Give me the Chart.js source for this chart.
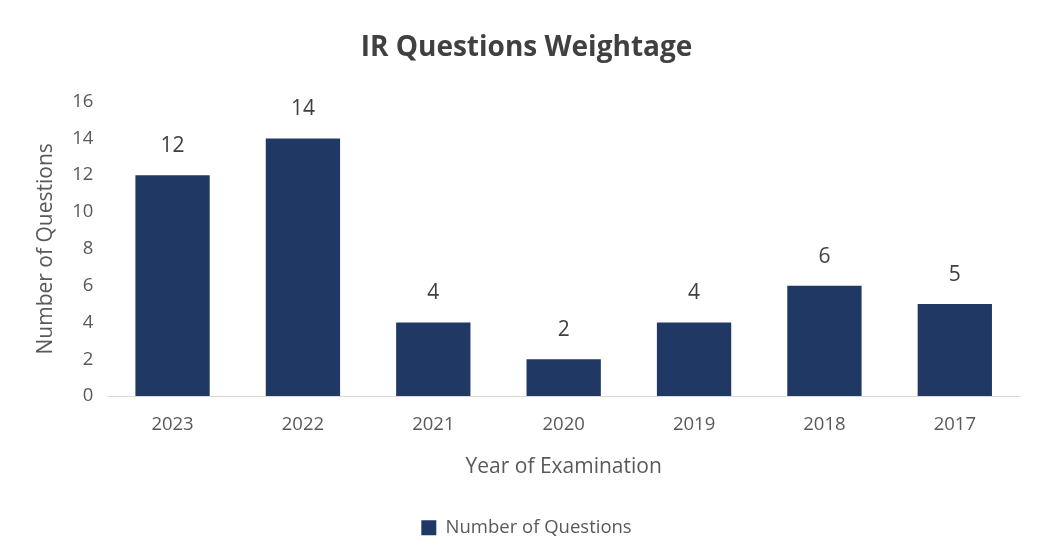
<!DOCTYPE html>
<html>
<head>
<meta charset="utf-8">
<script src="https://cdn.jsdelivr.net/npm/chart.js@4.4.1/dist/chart.umd.min.js"></script>
<style>
html,body{margin:0;padding:0;background:#fff;}
#wrap{width:1037px;height:547px;position:relative;}
</style>
</head>
<body>
<div id="wrap"><canvas id="c"></canvas></div>
<script>
const categories = ["2023","2022","2021","2020","2019","2018","2017"];
const questions = [12, 14, 4, 2, 4, 6, 5];
const yTicks = [0,2,4,6,8,10,12,14,16];

const FONT = "'Open Sans', 'Noto Sans', sans-serif";

const valueLabels = {
  id: 'valueLabels',
  afterDatasetsDraw(chart) {
    const ctx = chart.ctx;
    const meta = chart.getDatasetMeta(0);
    ctx.save();
    ctx.font = "21px " + FONT;
    ctx.fillStyle = '#404040';
    ctx.textAlign = 'center';
    ctx.textBaseline = 'middle';
    meta.data.forEach((bar, i) => {
      ctx.fillText(String(questions[i]), bar.x, bar.y - 29);
    });
    ctx.restore();
  }
};

new Chart(document.getElementById('c'), {
  type: 'bar',
  data: {
    labels: categories,
    datasets: [{
      label: 'Number of Questions',
      data: questions,
      backgroundColor: '#203864',
      borderWidth: 0,
      barPercentage: 0.57,
      categoryPercentage: 1.0
    }]
  },
  options: {
    responsive: true,
    maintainAspectRatio: false,
    animation: false,
    layout: { padding: { left: 33, right: 17, top: 0, bottom: 0 } },
    plugins: {
      title: {
        display: true,
        text: 'IR Questions Weightage',
        color: '#404040',
        font: { family: FONT, size: 28, weight: 'bold' },
        padding: { top: 31, bottom: 37 }
      },
      legend: {
        position: 'bottom',
        labels: {
          color: '#595959',
          font: { family: FONT, size: 18.5 },
          boxWidth: 15, boxHeight: 15,
          padding: 10
        }
      },
      tooltip: { enabled: false }
    },
    scales: {
      x: {
        grid: { display: false, drawTicks: false },
        border: { display: true, color: '#d9d9d9', width: 1 },
        ticks: { color: '#595959', font: { family: FONT, size: 18.5 }, padding: 18 },
        title: { display: true, text: 'Year of Examination', color: '#595959',
                 font: { family: FONT, size: 21 }, padding: { top: 0, bottom: 29 } }
      },
      y: {
        min: 0, max: 16,
        afterBuildTicks(axis) { axis.ticks = yTicks.map(v => ({ value: v })); },
        grid: { display: false, drawTicks: false },
        border: { display: false },
        ticks: { color: '#595959', font: { family: FONT, size: 18.5 }, padding: 14 },
        title: { display: true, text: 'Number of Questions', color: '#595959',
                 font: { family: FONT, size: 21 }, padding: { top: 0, bottom: 0 } }
      }
    }
  },
  plugins: [valueLabels]
});
</script>
</body>
</html>
